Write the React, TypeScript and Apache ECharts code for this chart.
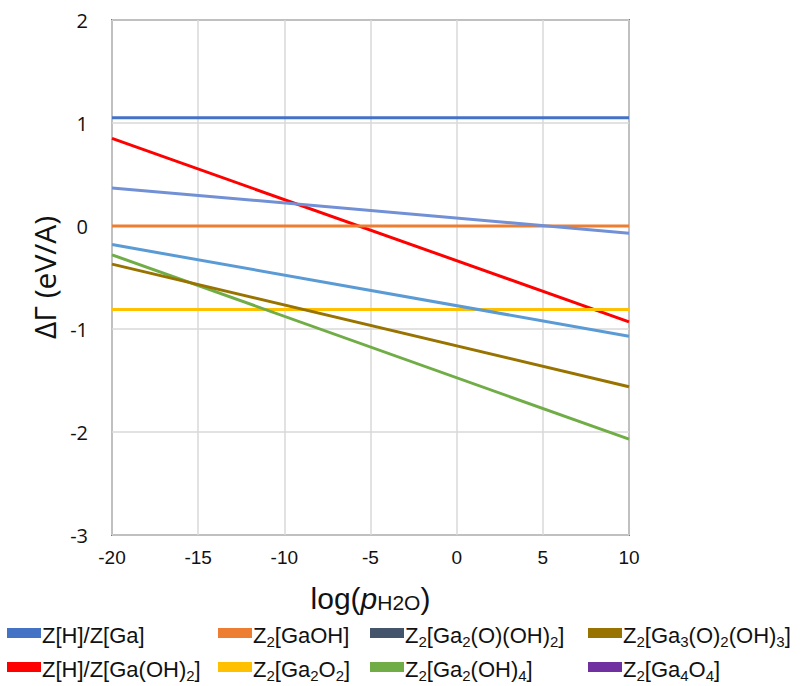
import React, { useEffect, useRef } from "react";
import * as echarts from "echarts";

const xEnds = [-20, 10];
const yTicks = [2, 1, 0, -1, -2, -3];
const xTicks = [-20, -15, -10, -5, 0, 5, 10];

const seriesNames = [
  "Z[H]/Z[Ga]",
  "Z[H]/Z[Ga(OH)2]",
  "Z2[GaOH]",
  "Z2[Ga2O2]",
  "Z2[Ga2(O)(OH)2]",
  "Z2[Ga2(OH)4]",
  "Z2[Ga3(O)2(OH)3]",
  "Z2[Ga4O4]",
];
const seriesValues = [
  [1.05, 1.05],
  [0.85, -0.93],
  [0.0, 0.0],
  [-0.81, -0.81],
  [-0.18, -1.07],
  [-0.28, -2.07],
  [-0.37, -1.56],
  [0.37, -0.07],
];
const lineColors = ["#4472C4", "#FF0000", "#ED7D31", "#FFC000", "#5B9BD5", "#70AD47", "#997300", "#7190D5"];
const legendColors = ["#4472C4", "#FF0000", "#ED7D31", "#FFC000", "#44546A", "#70AD47", "#997300", "#7030A0"];
const legendLabels: Record<string, string> = {
  "Z[H]/Z[Ga]": "{t|Z[H]/Z[Ga]}",
  "Z[H]/Z[Ga(OH)2]": "{t|Z[H]/Z[Ga(OH)}{s|2}{t|]}",
  "Z2[GaOH]": "{t|Z}{s|2}{t|[GaOH]}",
  "Z2[Ga2O2]": "{t|Z}{s|2}{t|[Ga}{s|2}{t|O}{s|2}{t|]}",
  "Z2[Ga2(O)(OH)2]": "{t|Z}{s|2}{t|[Ga}{s|2}{t|(O)(OH)}{s|2}{t|]}",
  "Z2[Ga2(OH)4]": "{t|Z}{s|2}{t|[Ga}{s|2}{t|(OH)}{s|4}{t|]}",
  "Z2[Ga3(O)2(OH)3]": "{t|Z}{s|2}{t|[Ga}{s|3}{t|(O)}{s|2}{t|(OH)}{s|3}{t|]}",
  "Z2[Ga4O4]": "{t|Z}{s|2}{t|[Ga}{s|4}{t|O}{s|4}{t|]}",
};
// legend slot for each series: [column, row]
const legendSlots = [
  [0, 0],
  [0, 1],
  [1, 0],
  [1, 1],
  [2, 0],
  [2, 1],
  [3, 0],
  [3, 1],
];
const legendLefts = [7, 218, 370, 588];
const legendTops = [624, 658];

export default function App() {
  const ref = useRef<HTMLDivElement>(null);
  useEffect(() => {
    if (!ref.current) return;
    const chart = echarts.init(ref.current, undefined, { renderer: "svg" });
    const rich = {
      t: { fontSize: 22, fontFamily: "Liberation Sans", color: "#111", lineHeight: 26, verticalAlign: "bottom" },
      s: { fontSize: 15, fontFamily: "Liberation Sans", color: "#111", lineHeight: 16, verticalAlign: "bottom", padding: [0, 0, -3, 0] },
    };
    chart.setOption({
      animation: false,
      grid: {
        left: 112,
        right: 177,
        top: 20,
        bottom: 151,
        show: true,
        borderColor: "#7a7a7a",
        borderWidth: 2,
        backgroundColor: "#fff",
      },
      xAxis: {
        type: "value",
        min: -20,
        max: 10,
        interval: 5,
        axisLine: { show: false },
        axisTick: { show: false },
        splitLine: { show: true, lineStyle: { color: "#d9d9d9", width: 1.5 } },
        axisLabel: {
          fontSize: 19,
          fontFamily: "Liberation Sans",
          color: "#111",
          margin: 13,
          formatter: (v: number) => (xTicks.includes(v) ? String(v) : ""),
        },
        name: "{a|log(}{i|p}{b|H2O}{a|)}",
        nameLocation: "middle",
        nameGap: 44,
        nameTextStyle: {
          rich: {
            a: { fontSize: 30, fontFamily: "Liberation Sans", color: "#111", verticalAlign: "bottom", lineHeight: 34 },
            i: { fontSize: 30, fontFamily: "Liberation Sans", fontStyle: "italic", color: "#111", verticalAlign: "bottom", lineHeight: 34 },
            b: { fontSize: 21, fontFamily: "Liberation Sans", color: "#111", verticalAlign: "bottom", lineHeight: 28 },
          },
        },
      },
      yAxis: {
        type: "value",
        min: -3,
        max: 2,
        interval: 1,
        axisLine: { show: false },
        axisTick: { show: false },
        splitLine: { show: true, lineStyle: { color: "#d9d9d9", width: 1.5 } },
        axisLabel: {
          fontSize: 20,
          fontFamily: "Open Sans",
          color: "#111",
          margin: 24,
          formatter: (v: number) => (yTicks.includes(v) ? String(v) : ""),
        },
        name: "ΔΓ (eV/A)",
        nameLocation: "middle",
        nameGap: 50,
        nameTextStyle: { fontSize: 30, fontFamily: "Open Sans", color: "#111" },
      },
      legend: seriesNames.map((name, i) => ({
        orient: "horizontal",
        left: legendLefts[legendSlots[i][0]],
        top: legendTops[legendSlots[i][1]],
        itemWidth: 34,
        itemHeight: 10,
        icon: "rect",
        selectedMode: false,
        padding: 0,
        data: [{ name, itemStyle: { color: legendColors[i], borderWidth: 0 } }],
        formatter: (n: string) => legendLabels[n] || n,
        textStyle: { rich, padding: [0, 0, 0, -4] },
      })),
      series: seriesNames.map((name, i) => ({
        name,
        type: "line",
        data: xEnds.map((x, j) => [x, seriesValues[i][j]]),
        showSymbol: false,
        symbol: "none",
        color: legendColors[i],
        itemStyle: { color: legendColors[i] },
        lineStyle: { color: lineColors[i], width: 3 },
        z: 2 + i,
      })),
    });
    return () => chart.dispose();
  }, []);
  return <div ref={ref} style={{ position: "absolute", left: 0, top: 0, width: 806, height: 686 }} />;
}
